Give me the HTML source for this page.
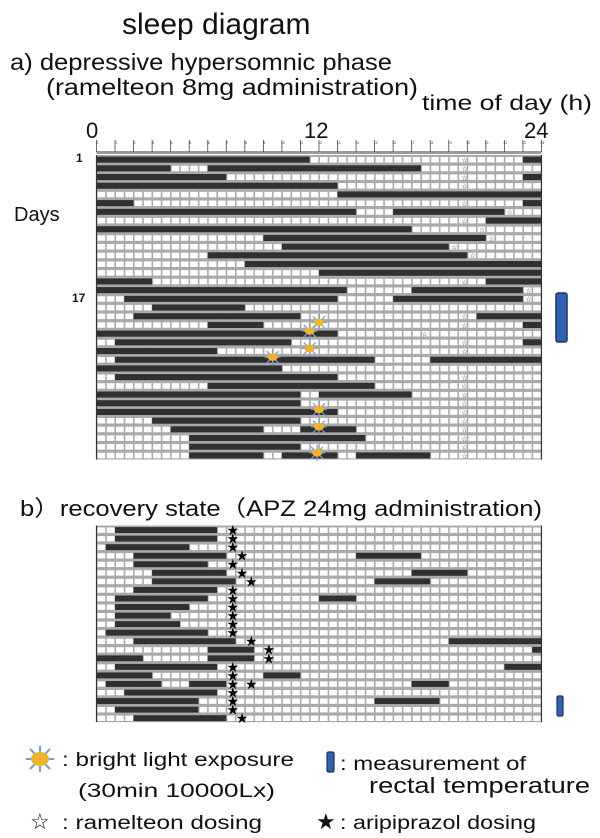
<!DOCTYPE html>
<html><head><meta charset="utf-8"><style>
html,body{margin:0;padding:0;background:#fff;width:600px;height:838px;overflow:hidden}
svg{display:block;font-family:"Liberation Sans",sans-serif}
</style></head><body>
<svg id="s" width="600" height="838" viewBox="0 0 600 838" xmlns="http://www.w3.org/2000/svg">
<text x="122" y="34" font-size="30" fill="#111">sleep diagram</text>
<text x="10" y="70" font-size="23" fill="#111" textLength="382" lengthAdjust="spacingAndGlyphs">a) depressive hypersomnic phase</text>
<text x="46" y="95" font-size="23" fill="#111" textLength="372" lengthAdjust="spacingAndGlyphs">(ramelteon 8mg administration)</text>
<text x="422" y="110" font-size="21" fill="#111" textLength="170" lengthAdjust="spacingAndGlyphs">time of day (h)</text>
<text x="86" y="138" font-size="22" fill="#111">0</text>
<text x="304" y="138" font-size="22" fill="#111">12</text>
<text x="524" y="138" font-size="22" fill="#111">24</text>
<text x="76" y="162" font-size="12" font-weight="bold" fill="#111">1</text>
<text x="14" y="221" font-size="20" fill="#111">Days</text>
<text x="72" y="302" font-size="12" font-weight="bold" fill="#111">17</text>
<rect x="556" y="293" width="11" height="49" rx="2" fill="#2f62b0" stroke="#1d3360" stroke-width="1.5"/>
<text x="20" y="516" font-size="22" fill="#111" textLength="522" lengthAdjust="spacingAndGlyphs">b）recovery state（APZ 24mg administration)</text>
<rect x="557" y="696" width="6" height="20" rx="1.5" fill="#2f62b0" stroke="#1d3360" stroke-width="1.2"/>
<g id="g"></g>
<g transform="translate(40,759)">
<g stroke="#7a9ad0" stroke-width="2"><line x1="-14" y1="0" x2="14" y2="0"/><line x1="0" y1="-13" x2="0" y2="13"/><line x1="-10" y1="-10" x2="10" y2="10"/><line x1="-10" y1="10" x2="10" y2="-10"/></g>
<ellipse cx="0" cy="0" rx="9" ry="7" fill="#f0b429"/>
</g>
<text x="62" y="766" font-size="19" fill="#111" textLength="232" lengthAdjust="spacingAndGlyphs">: bright light exposure</text>
<text x="78" y="797" font-size="19" fill="#111" textLength="197" lengthAdjust="spacingAndGlyphs">(30min 10000Lx)</text>
<rect x="327" y="752" width="7" height="20" rx="1.5" fill="#2f62b0" stroke="#1d3360" stroke-width="1.2"/>
<text x="340" y="770" font-size="19" fill="#111" textLength="186" lengthAdjust="spacingAndGlyphs">: measurement of</text>
<text x="369" y="793" font-size="22" fill="#111" textLength="221" lengthAdjust="spacingAndGlyphs">rectal temperature</text>
<text x="30" y="829" font-size="22" fill="#111">☆</text>
<text x="62" y="829" font-size="19" fill="#111" textLength="200" lengthAdjust="spacingAndGlyphs">: ramelteon dosing</text>
<text x="316" y="829" font-size="22" fill="#111">★</text>
<text x="340" y="829" font-size="19" fill="#111" textLength="196" lengthAdjust="spacingAndGlyphs">: aripiprazol dosing</text>
</svg>
<script>
(function(){
var NS="http://www.w3.org/2000/svg",g=document.getElementById("g");
function el(t,a,txt){var e=document.createElementNS(NS,t);for(var k in a)e.setAttribute(k,a[k]);if(txt)e.textContent=txt;g.appendChild(e);return e;}
var X0=96.5,PH=18.54;function X(h){return X0+h*PH;}
el("rect",{x:X0,y:151,width:24*PH,height:3,fill:"#999"});
for(var h=0;h<=24;h++){el("line",{x1:X(h),y1:140,x2:X(h),y2:152,stroke:"#444","stroke-width":0.8});
 el("text",{x:X(h)+1,y:144,"font-size":3.5,fill:"#333","text-anchor":"middle"},String(h));}
function grid(y0,n,sp){
 el("rect",{x:X0,y:y0,width:24*PH,height:n*sp,fill:"#aaa"});
 for(var i=0;i<n;i++){var yt=y0+i*sp;
  for(var c=0;c<48;c++){el("rect",{x:X0+c*PH/2+1,y:yt+2,width:PH/2-1.6,height:sp-3.2,fill:"#fff"});}}
 el("line",{x1:X0,y1:y0,x2:X0,y2:y0+n*sp,stroke:"#333","stroke-width":1.2});
 el("line",{x1:X(24),y1:y0,x2:X(24),y2:y0+n*sp,stroke:"#333","stroke-width":1.2});
}
function bars(y0,sp,data){data.forEach(function(r,i){var yt=y0+i*sp;
 for(var k=0;k<r.length;k+=2){el("rect",{x:X(r[k]),y:yt+1.6,width:(r[k+1]-r[k])*PH,height:sp-2.6,fill:"#303030"});}});}
var topData=[[0,11.5,23,24],[0,4,6,17.5],[0,7,23,24],[0,13],[13,24],[0,2,23,24],[0,14,16,22],[21,24],[0,17],[9,21],[10,19],[6,20],[8,24],[12,24],[0,3,21,24],[0,13.5,17,23],[1.5,13,16,23],[3,8],[2,11,20.5,24],[6,9,23,24],[0,13],[1,10.5,23,24],[0,6.5],[1,15,18,24],[0,10],[1,13],[6,15],[0,11,12,17],[0,11],[0,13],[3,11],[4,9,11,14],[5,14.5],[5,11],[5,9,10,13,14,18]];
var T0=155,TS=8.7;
grid(T0,35,TS);bars(T0,TS,topData);
var ws=[0,1,2,3,5,7,14,18,19,21,22,23,25,26,27,28,29,30,31,32,33,34];
ws.forEach(function(i){el("text",{x:X(19.85),y:T0+i*TS+7.5,"font-size":7,fill:"#333","text-anchor":"middle"},"☆");});
[[6,22.3],[8,20.8],[9,21.3],[10,19.3],[11,20.3],[15,23.3],[16,23.3],[20,17.7]].forEach(function(p){el("text",{x:X(p[1]),y:T0+p[0]*TS+7.5,"font-size":7,fill:"#333","text-anchor":"middle"},"☆");});
function sun(x,y){var gg=document.createElementNS(NS,"g");gg.setAttribute("transform","translate("+x+","+y+")");
 gg.innerHTML='<g stroke="#7a9ad0" stroke-width="1.3"><line x1="-8" y1="0" x2="8" y2="0"/><line x1="0" y1="-8" x2="0" y2="8"/><line x1="-6" y1="-6" x2="6" y2="6"/><line x1="-6" y1="6" x2="6" y2="-6"/></g><ellipse rx="5" ry="3.8" fill="#f0b429"/>';g.appendChild(gg);}
[[19,12],[20,11.5],[22,11.5],[23,9.5],[29,12],[31,12],[34,11.9]].forEach(function(p){sun(X(p[1]),T0+p[0]*TS+2);});
var bot=[[1,6.5],[1,6.5],[0.5,5],[2,7,14,17.5],[2,6],[3,7,17,20],[3,7.5,15,18],[2,6.5],[1,6,12,14],[1,5],[1,4],[1,4.5],[0.5,6],[2,7.5,19,24],[6,8.5,23.5,24],[0,2.5,6,8.5],[1,6.5,22,24],[0,3,9,11],[0.5,3.5,5,7,17,19],[1.5,6.5],[0,5.5,15,18.5],[1,5.5],[2,7]];
var B0=525.5,BS=8.55;
grid(B0,23,BS);bars(B0,BS,bot);
var bs=[[7.35],[7.35],[7.35],[7.85],[7.35],[7.85],[8.35],[7.35],[7.35],[7.35],[7.35],[7.35],[7.35],[8.35],[9.3],[9.3],[7.35],[7.35],[7.35,8.35],[7.35],[7.35],[7.35],[7.85]];
bs.forEach(function(a,i){a.forEach(function(h){el("text",{x:X(h),y:B0+i*BS+9.5,"font-size":14,fill:"#000","text-anchor":"middle"},"★");});});
})();
</script>
</body></html>
